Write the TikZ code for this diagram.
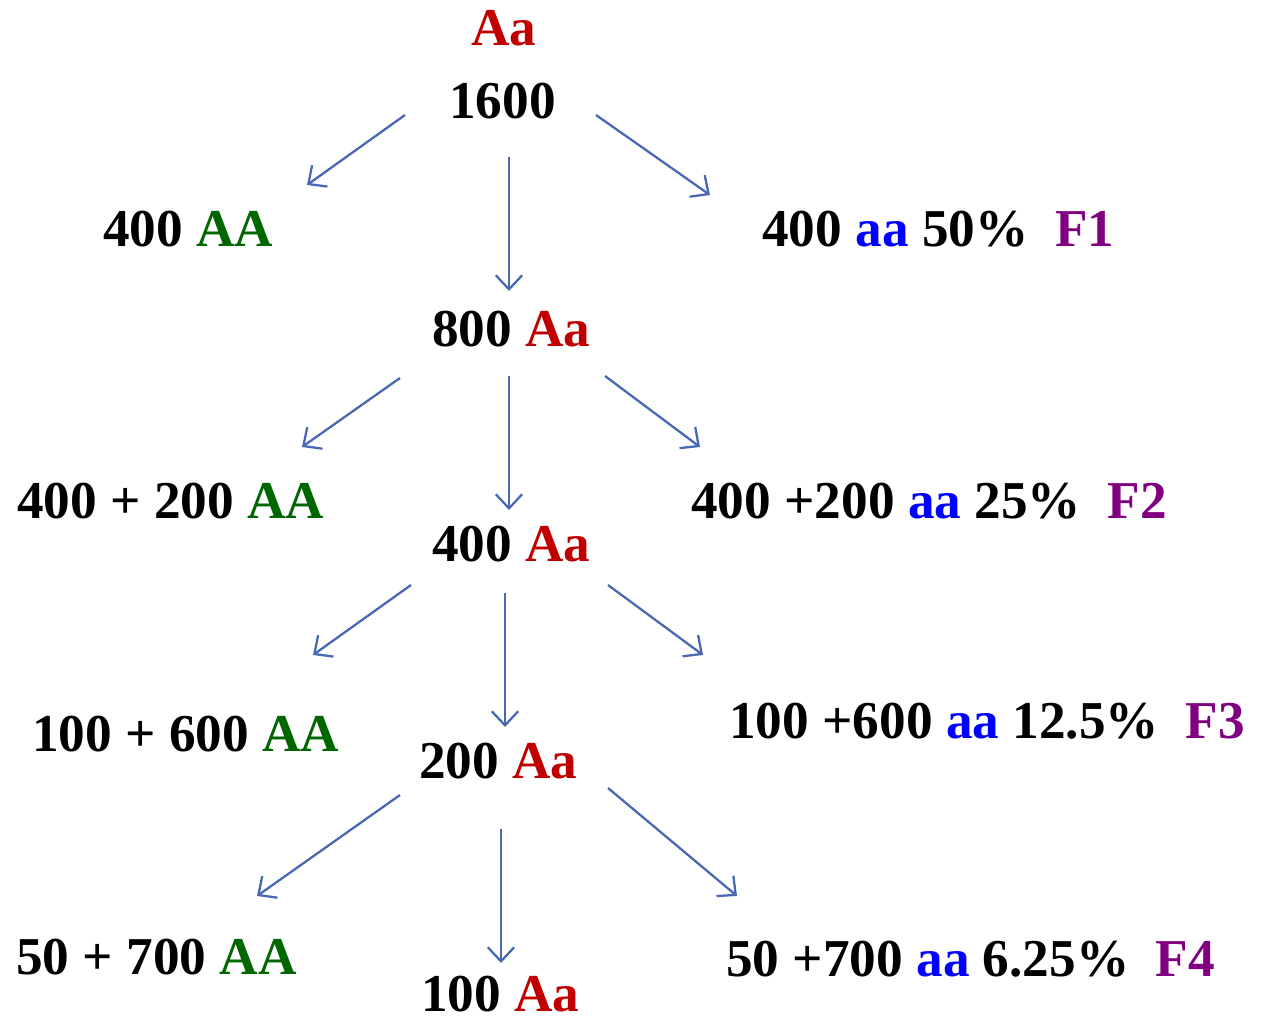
\documentclass[tikz,border=0pt]{standalone}
\usepackage{fontspec}
\setmainfont{Liberation Serif}
\usepackage{xcolor}
\usetikzlibrary{arrows.meta}

\definecolor{arrblue}{RGB}{72,104,178}
\definecolor{redAa}{RGB}{192,0,0}
\definecolor{greenAA}{RGB}{0,102,0}
\definecolor{blueaa}{RGB}{0,0,255}
\definecolor{purpleF}{RGB}{128,0,128}

\tikzset{
  lbl/.style={anchor=base west, inner sep=0pt, font=\fontsize{30.3}{36}\selectfont\bfseries},
  arr/.style={arrblue, line width=1.3pt, -{Straight Barb[length=8pt,width=15pt]}}
}

\begin{document}
\begin{tikzpicture}[x=0.02cm, y=-0.02cm]
\useasboundingbox (0,0) rectangle (1262,1021);

% generation labels
\node[lbl] (top) at (471,46) {\textcolor{redAa}{Aa}};
\node[lbl] (n1600) at (449,118) {1600};

\node[lbl] (f1AA) at (103,246) {400 \textcolor{greenAA}{AA}};
\node[lbl] (f1aa) at (762,246) {400 \textcolor{blueaa}{aa} 50\%\hspace{0.5em}\textcolor{purpleF}{F1}};
\node[lbl] (f1Aa) at (432,346) {800 \textcolor{redAa}{Aa}};

\node[lbl] (f2AA) at (17,518) {400 + 200 \textcolor{greenAA}{AA}};
\node[lbl] (f2aa) at (691,518) {400 +200 \textcolor{blueaa}{aa} 25\%\hspace{0.5em}\textcolor{purpleF}{F2}};
\node[lbl] (f2Aa) at (432,561) {400 \textcolor{redAa}{Aa}};

\node[lbl] (f3AA) at (32,751) {100 + 600 \textcolor{greenAA}{AA}};
\node[lbl] (f3aa) at (729,738) {100 +600 \textcolor{blueaa}{aa} 12.5\%\hspace{0.5em}\textcolor{purpleF}{F3}};
\node[lbl] (f3Aa) at (419,778) {200 \textcolor{redAa}{Aa}};

\node[lbl] (f4AA) at (16,974) {50 + 700 \textcolor{greenAA}{AA}};
\node[lbl] (f4aa) at (726,976) {50 +700 \textcolor{blueaa}{aa} 6.25\%\hspace{0.5em}\textcolor{purpleF}{F4}};
\node[lbl] (f4Aa) at (421,1011) {100 \textcolor{redAa}{Aa}};

% arrow ends
\coordinate (s0l) at (405,115); \coordinate (e0l) at (307,185);
\coordinate (s0m) at (509,157); \coordinate (e0m) at (509,291);
\coordinate (s0r) at (596,115); \coordinate (e0r) at (710,195);

\coordinate (s1l) at (400,378); \coordinate (e1l) at (302,447);
\coordinate (s1m) at (509,376); \coordinate (e1m) at (509,510);
\coordinate (s1r) at (605,376); \coordinate (e1r) at (700,447);

\coordinate (s2l) at (411,585); \coordinate (e2l) at (313,655);
\coordinate (s2m) at (505,593); \coordinate (e2m) at (505,727);
\coordinate (s2r) at (608,585); \coordinate (e2r) at (703,655);

\coordinate (s3l) at (400,795); \coordinate (e3l) at (257,896);
\coordinate (s3m) at (501,829); \coordinate (e3m) at (501,963);
\coordinate (s3r) at (608,788); \coordinate (e3r) at (737,896);

\foreach \g in {0,1,2,3}
{
  \foreach \d in {l,m,r}
  {
    \draw[arr] (s\g\d) -- (e\g\d);
  }
}

\end{tikzpicture}
\end{document}
